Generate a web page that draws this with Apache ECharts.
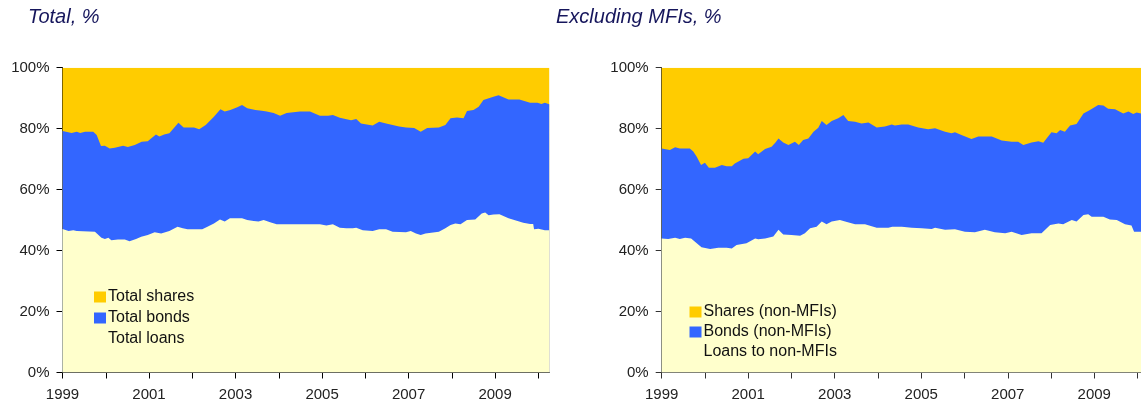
<!DOCTYPE html>
<html lang="en">
<head>
    <meta charset="UTF-8">
    <title>Total vs excluding MFIs</title>
    <script src="https://cdn.jsdelivr.net/npm/echarts@6.0.0/dist/echarts.min.js"></script>
    <style>
        html, body { margin: 0; padding: 0; background: #fff; }
        #chart { width: 1141px; height: 408px; }
    </style>
</head>
<body>
    <div id="chart"></div>
    <script>
        // x axis: years
        const tickYears = [1999, 2000, 2001, 2002, 2003, 2004, 2005, 2006, 2007, 2008, 2009, 2010];
        const labelYears = [1999, 2001, 2003, 2005, 2007, 2009];

        // left panel: total, % ([year, %])
        // shares fill up to 100
        const totSharesTop = [[1999, 100], [2010.25, 100]];
        // upper edge of bonds band (loans + bonds)
        const totBondsTop = [[1999.00,79.2],[1999.21,78.6],[1999.33,79.0],[1999.41,78.6],[1999.52,79.0],[1999.71,79.0],[1999.79,77.9],[1999.89,74.3],[1999.98,74.4],[2000.09,73.5],[2000.21,73.7],[2000.40,74.4],[2000.51,74.0],[2000.67,74.6],[2000.83,75.7],[2000.97,75.9],[2001.16,78.1],[2001.24,77.4],[2001.35,78.1],[2001.47,78.5],[2001.57,80.1],[2001.68,81.9],[2001.80,80.4],[2002.04,80.4],[2002.16,79.8],[2002.31,81.2],[2002.50,83.9],[2002.65,86.4],[2002.75,85.6],[2002.88,86.1],[2003.04,87.0],[2003.15,87.8],[2003.27,86.7],[2003.46,86.1],[2003.61,85.9],[2003.72,85.6],[2003.88,85.1],[2004.03,84.2],[2004.18,85.1],[2004.49,85.6],[2004.72,85.6],[2004.95,84.2],[2005.14,84.2],[2005.25,84.5],[2005.41,83.6],[2005.67,82.8],[2005.79,83.2],[2005.90,81.7],[2006.17,81.0],[2006.32,82.3],[2006.48,81.7],[2006.63,81.2],[2006.78,80.7],[2006.94,80.4],[2007.13,80.2],[2007.28,79.0],[2007.43,80.2],[2007.70,80.4],[2007.85,81.2],[2007.97,83.4],[2008.12,83.7],[2008.27,83.4],[2008.35,85.8],[2008.50,86.1],[2008.62,87.2],[2008.73,89.4],[2008.96,90.5],[2009.08,91.0],[2009.31,89.6],[2009.56,89.6],[2009.81,88.5],[2009.98,88.5],[2010.07,88.1],[2010.15,88.5],[2010.25,88.0]];
        const totLoans = [[1999.00,47.1],[1999.14,46.4],[1999.25,46.7],[1999.33,46.4],[1999.37,46.2],[1999.75,46.2],[1999.79,45.8],[1999.90,44.2],[1999.98,43.8],[2000.06,44.2],[2000.13,43.4],[2000.28,43.6],[2000.44,43.6],[2000.55,43.1],[2000.70,43.8],[2000.82,44.5],[2000.97,45.1],[2001.13,46.0],[2001.28,45.6],[2001.47,46.4],[2001.66,47.8],[2001.78,47.3],[2001.89,47.0],[2002.23,47.0],[2002.35,47.8],[2002.50,48.9],[2002.64,50.2],[2002.75,49.5],[2002.87,50.6],[2003.15,50.6],[2003.27,50.0],[2003.42,49.7],[2003.53,49.5],[2003.65,50.0],[2003.80,49.3],[2003.95,48.6],[2004.95,48.6],[2005.10,48.2],[2005.25,48.6],[2005.41,47.5],[2005.56,47.3],[2005.71,47.3],[2005.79,47.5],[2005.94,46.7],[2006.17,46.4],[2006.32,47.0],[2006.48,47.0],[2006.63,46.2],[2006.94,46.0],[2007.05,46.4],[2007.17,45.6],[2007.28,45.1],[2007.39,45.6],[2007.70,46.2],[2007.85,47.3],[2007.97,48.4],[2008.08,48.9],[2008.20,48.6],[2008.35,50.0],[2008.54,50.2],[2008.69,52.2],[2008.77,52.5],[2008.85,51.6],[2008.96,51.8],[2009.10,51.9],[2009.31,50.6],[2009.65,49.1],[2009.81,48.7],[2009.88,48.7],[2009.90,47.0],[2010.00,47.2],[2010.15,46.7],[2010.25,46.7]];

        // right panel: excluding MFIs, %
        const exSharesTop = [[1999, 100], [2010.25, 100]];
        const exBondsTop = [[1999.00,73.5],[1999.19,73.0],[1999.31,73.9],[1999.42,73.5],[1999.65,73.5],[1999.73,72.5],[1999.81,70.8],[1999.91,68.1],[2000.00,68.8],[2000.09,67.2],[2000.23,67.2],[2000.39,68.1],[2000.50,67.7],[2000.62,67.7],[2000.69,68.6],[2000.89,70.1],[2001.00,70.3],[2001.16,72.5],[2001.23,71.6],[2001.39,73.3],[2001.54,74.1],[2001.63,75.5],[2001.70,76.8],[2001.81,75.5],[2001.93,74.6],[2002.08,75.7],[2002.17,74.6],[2002.27,76.3],[2002.39,76.8],[2002.51,79.0],[2002.62,80.3],[2002.70,82.5],[2002.81,81.2],[2002.93,82.5],[2003.08,83.4],[2003.20,84.5],[2003.31,82.5],[2003.47,82.3],[2003.62,81.7],[2003.78,82.0],[2003.97,80.4],[2004.16,80.7],[2004.32,81.4],[2004.39,81.0],[2004.55,81.4],[2004.70,81.4],[2004.93,80.4],[2005.16,79.8],[2005.32,80.1],[2005.55,79.0],[2005.70,78.5],[2005.78,78.8],[2005.93,77.9],[2006.16,76.6],[2006.32,77.4],[2006.63,77.4],[2006.86,76.1],[2007.09,75.7],[2007.24,75.7],[2007.36,74.6],[2007.55,75.5],[2007.71,75.9],[2007.82,75.4],[2008.01,78.8],[2008.13,78.5],[2008.21,79.6],[2008.32,79.0],[2008.44,81.0],[2008.59,81.5],[2008.75,85.0],[2008.90,86.1],[2009.09,87.8],[2009.21,87.6],[2009.32,86.5],[2009.48,86.4],[2009.67,85.0],[2009.79,85.6],[2009.90,84.8],[2009.98,85.3],[2010.08,85.0]];
        const exLoans = [[1999.00,44.0],[1999.15,43.8],[1999.31,44.2],[1999.42,43.8],[1999.54,44.2],[1999.68,44.0],[1999.81,42.4],[1999.92,41.1],[2000.12,40.5],[2000.31,40.9],[2000.50,40.9],[2000.62,40.7],[2000.73,41.8],[2000.96,42.4],[2001.16,44.0],[2001.23,43.7],[2001.39,44.0],[2001.58,44.6],[2001.70,46.8],[2001.81,45.3],[2002.00,45.1],[2002.20,44.9],[2002.31,45.7],[2002.43,47.3],[2002.58,47.8],[2002.70,49.5],[2002.81,48.6],[2002.93,49.5],[2003.12,50.0],[2003.24,49.5],[2003.47,48.6],[2003.70,48.6],[2003.97,47.5],[2004.24,47.5],[2004.33,47.8],[2004.55,47.8],[2004.78,47.5],[2005.01,47.3],[2005.24,47.1],[2005.32,47.5],[2005.55,46.8],[2005.78,47.0],[2006.01,46.2],[2006.24,46.0],[2006.47,46.8],[2006.70,46.0],[2006.94,45.7],[2007.09,46.2],[2007.32,45.1],[2007.55,45.7],[2007.78,45.7],[2007.98,48.4],[2008.17,48.9],[2008.28,48.6],[2008.48,50.0],[2008.59,49.5],[2008.75,51.7],[2008.86,51.9],[2008.94,51.1],[2009.21,51.1],[2009.36,50.2],[2009.52,50.0],[2009.71,48.6],[2009.86,48.2],[2009.92,46.2],[2010.08,46.2]];

        const SHARES = '#ffcc00', BONDS = '#3366ff', LOANS = '#ffffcc';
        const FONT = '"Liberation Sans", Arial, sans-serif';

        function xAxisFor(grid, max, lineColor) {
            return {
                type: 'value', gridIndex: grid, min: 1999, max: max,
                splitLine: { show: false },
                axisLine: { lineStyle: { color: lineColor, width: 1 } },
                axisTick: { customValues: tickYears, length: 6, lineStyle: { color: lineColor } },
                axisLabel: { customValues: labelYears, margin: 15, fontSize: 15, color: '#222', fontFamily: FONT,
                    formatter: v => String(v) }
            };
        }
        function yAxisFor(grid, lineColor) {
            return {
                type: 'value', gridIndex: grid, min: 0, max: 100, interval: 20,
                splitLine: { show: false },
                axisLine: { show: true, lineStyle: { color: lineColor, width: 1 } },
                axisTick: { show: true, length: 6, lineStyle: { color: lineColor } },
                axisLabel: { margin: 13, fontSize: 15, color: '#222', fontFamily: FONT, formatter: '{value}%' }
            };
        }
        function area(name, data, color, idx) {
            return {
                name: name, type: 'line', xAxisIndex: idx, yAxisIndex: idx,
                data: data, color: color, itemStyle: { color: color },
                showSymbol: false, symbol: 'none', sampling: null,
                lineStyle: { width: 0 }, areaStyle: { color: color, opacity: 1 },
                animation: false, silent: true
            };
        }
        function legendFor(names, left, top, gap) {
            return {
                data: names, orient: 'vertical', left: left, top: top,
                icon: 'rect', itemWidth: 12, itemHeight: 11, itemGap: gap,
                selectedMode: false,
                textStyle: { fontSize: 16, lineHeight: 16, color: '#111', fontFamily: FONT, padding: [0, 0, 0, -3] }
            };
        }

        const chart = echarts.init(document.getElementById('chart'));
        chart.setOption({
            animation: false,
            title: [
                { text: 'Total, %', left: 23, top: 2,
                  textStyle: { fontSize: 20, fontStyle: 'italic', fontWeight: 'normal', color: '#16165c', fontFamily: FONT } },
                { text: 'Excluding MFIs, %', left: 551, top: 2,
                  textStyle: { fontSize: 20, fontStyle: 'italic', fontWeight: 'normal', color: '#16165c', fontFamily: FONT } }
            ],
            legend: [
                legendFor(['Total shares', 'Total bonds', 'Total loans'], 89, 284, 5),
                legendFor(['Shares (non-MFIs)', 'Bonds (non-MFIs)', 'Loans to non-MFIs'], 684.5, 299, 4)
            ],
            grid: [
                { left: 62.5, top: 67.7, width: 486.7, height: 304.8 },
                { left: 661.7, top: 67.7, right: 0, height: 304.8 }
            ],
            xAxis: [xAxisFor(0, 2010.25, '#000'), xAxisFor(1, 2010.08, '#333')],
            yAxis: [yAxisFor(0, '#000'), yAxisFor(1, '#333')],
            series: [
                area('Total shares', totSharesTop, SHARES, 0),
                area('Total bonds', totBondsTop, BONDS, 0),
                area('Total loans', totLoans, LOANS, 0),
                area('Shares (non-MFIs)', exSharesTop, SHARES, 1),
                area('Bonds (non-MFIs)', exBondsTop, BONDS, 1),
                area('Loans to non-MFIs', exLoans, LOANS, 1)
            ]
        });
    </script>
</body>
</html>
